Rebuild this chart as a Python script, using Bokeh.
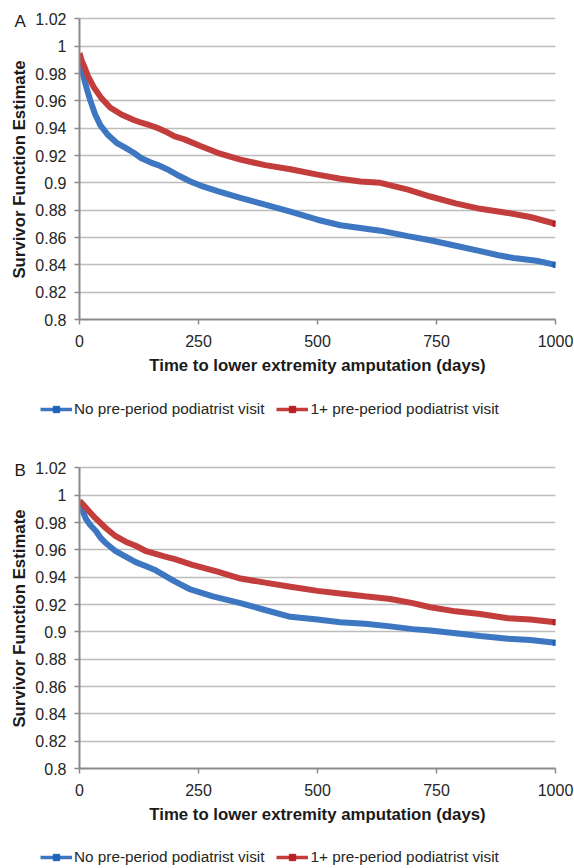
import math
from bokeh.plotting import figure
from bokeh.layouts import column, row
from bokeh.models import (Range1d, FixedTicker, NumeralTickFormatter, Legend,
                          LegendItem, Label)
from bokeh.embed import file_html
from bokeh.resources import INLINE

# ---- data ----
series_labels = ["No pre-period podiatrist visit", "1+ pre-period podiatrist visit"]
panel_tags = ["A", "B"]
x_ticks = [0, 250, 500, 750, 1000]
y_ticks = [0.8, 0.82, 0.84, 0.86, 0.88, 0.9, 0.92, 0.94, 0.96, 0.98, 1.0, 1.02]
x_title = "Time to lower extremity amputation (days)"
y_title = "Survivor Function Estimate"

# Panel A
a_no_days = [0, 4, 9, 16, 23, 33, 44, 60, 79, 95, 114, 130, 149, 165, 184, 210, 233, 254, 290, 338,
             390, 443, 500, 548, 590, 632, 690, 737, 790, 842, 880, 912, 960, 1000]
a_no_surv = [0.994, 0.985, 0.977, 0.968, 0.960, 0.950, 0.942, 0.935, 0.929, 0.926, 0.922, 0.918, 0.915,
             0.913, 0.910, 0.905, 0.901, 0.898, 0.894, 0.889, 0.884, 0.879, 0.873, 0.869, 0.867, 0.865,
             0.861, 0.858, 0.854, 0.850, 0.847, 0.845, 0.843, 0.840]
a_yes_days = [0, 4, 9, 18, 30, 46, 65, 88, 114, 130, 149, 165, 184, 200, 219, 233, 254, 290, 338, 390,
              443, 500, 548, 590, 632, 690, 737, 790, 842, 900, 947, 1000]
a_yes_surv = [0.995, 0.990, 0.986, 0.978, 0.970, 0.962, 0.955, 0.950, 0.946, 0.944, 0.942, 0.940, 0.937,
              0.934, 0.932, 0.930, 0.927, 0.922, 0.917, 0.913, 0.910, 0.906, 0.903, 0.901, 0.900, 0.895,
              0.890, 0.885, 0.881, 0.878, 0.875, 0.870]

# Panel B
b_no_days = [0, 6, 13, 23, 34, 44, 55, 76, 97, 118, 140, 160, 180, 200, 233, 280, 338, 390, 443, 500,
             548, 600, 653, 700, 737, 790, 842, 900, 947, 1000]
b_no_surv = [0.995, 0.989, 0.983, 0.978, 0.974, 0.969, 0.965, 0.959, 0.955, 0.951, 0.948, 0.945, 0.941,
             0.937, 0.931, 0.926, 0.921, 0.916, 0.911, 0.909, 0.907, 0.906, 0.904, 0.902, 0.901, 0.899,
             0.897, 0.895, 0.894, 0.892]
b_yes_days = [0, 8, 18, 34, 55, 76, 97, 118, 140, 160, 180, 202, 237, 290, 338, 390, 443, 500, 548, 600,
              653, 700, 737, 790, 842, 900, 947, 1000]
b_yes_surv = [0.996, 0.993, 0.989, 0.983, 0.976, 0.970, 0.966, 0.963, 0.959, 0.957, 0.955, 0.953, 0.949,
              0.944, 0.939, 0.936, 0.933, 0.930, 0.928, 0.926, 0.924, 0.921, 0.918, 0.915, 0.913, 0.910,
              0.909, 0.907]

BLUE = "#3D77C2"
RED = "#C23D3B"
BLUE_M = "#1F63B8"
RED_M = "#B81F1F"
FONT = "Liberation Sans"
TAG_W = 31
FRAME_H = 305          # plot frame height in px (a little headroom above the 1.02 line)
Y_MIN, Y_AXIS_MAX, Y_VIEW_MAX = 0.8, 1.02, 1.0232


def blank_fig(width, height, x_range, y_range):
    f = figure(width=width, height=height, output_backend="svg", toolbar_location=None,
               x_range=x_range, y_range=y_range, min_border=0,
               x_axis_location=None, y_axis_location=None)
    f.outline_line_color = None
    f.grid.visible = False
    f.title.text_font_size = "0px"
    f.title.standoff = 0
    f.title.visible = False
    return f


def tag_strip(tag, height):
    # narrow strip left of the plot; its frame is aligned with the plot frame,
    # so y is counted in px upward from the frame bottom
    f = blank_fig(TAG_W, height, Range1d(0, TAG_W), Range1d(0, FRAME_H))
    f.add_layout(Label(x=14, y=FRAME_H - 7, text=tag, text_font=FONT,
                       text_font_size="17px", text_baseline="middle", text_align="left",
                       text_color="#1A1A1A"))
    f.add_layout(Label(x=19, y=FRAME_H - 155, text=y_title, angle=math.pi / 2,
                       text_font=FONT, text_font_size="16.8px", text_font_style="bold",
                       text_baseline="middle", text_align="center", text_color="#1A1A1A"))
    return f


def main_plot(no_days, no_surv, yes_days, yes_surv, height, top_border):
    p = figure(width=574 - TAG_W, height=height, output_backend="svg", toolbar_location=None,
               x_range=Range1d(0, 1000), y_range=Range1d(Y_MIN, Y_VIEW_MAX),
               min_border_left=79 - TAG_W, min_border_right=19, min_border_top=top_border,
               min_border_bottom=height - top_border - FRAME_H)
    p.outline_line_color = None
    p.xgrid.visible = False
    p.ygrid.grid_line_color = "#BDBDBD"
    p.ygrid.grid_line_width = 1.5
    p.ygrid.ticker = FixedTicker(ticks=y_ticks)

    for ax in (p.xaxis[0], p.yaxis[0]):
        ax.axis_line_color = "#8A8A8A"
        ax.axis_line_width = 2
        ax.major_tick_line_color = "#8A8A8A"
        ax.major_tick_line_width = 1.5
        ax.major_tick_out = 5
        ax.major_tick_in = 0
        ax.minor_tick_line_color = None
        ax.major_label_text_font = FONT
        ax.major_label_text_font_size = "16px"
        ax.major_label_text_color = "#262626"
        ax.axis_label_text_font = FONT
        ax.axis_label_text_font_size = "16.8px"
        ax.axis_label_text_font_style = "bold"
        ax.axis_label_text_color = "#1A1A1A"

    p.xaxis.ticker = FixedTicker(ticks=x_ticks)
    p.xaxis.major_label_standoff = 10
    p.xaxis.axis_label = x_title
    p.xaxis.axis_label_standoff = 6
    p.yaxis.ticker = FixedTicker(ticks=y_ticks)
    p.yaxis.bounds = (Y_MIN, Y_AXIS_MAX)
    p.yaxis.formatter = NumeralTickFormatter(format="0.[00]")
    p.yaxis.major_label_standoff = 8

    p.line(no_days, no_surv, line_color=BLUE, line_width=6)
    p.line(yes_days, yes_surv, line_color=RED, line_width=6)
    p.scatter(x=[no_days[-1]], y=[no_surv[-1]], marker="square", size=5, color=BLUE_M)
    p.scatter(x=[yes_days[-1]], y=[yes_surv[-1]], marker="square", size=5, color=RED_M)
    return p


def legend_strip(height, legend_bottom):
    # legend row under a panel; its sample glyphs lie outside this strip's ranges
    f = blank_fig(574, height, Range1d(2000, 3000), Range1d(0, 1))
    l_no = f.line(a_no_days, a_no_surv, line_color=BLUE, line_width=3.5)
    m_no = f.scatter(x=[a_no_days[-1]], y=[a_no_surv[-1]], marker="square", size=5, color=BLUE_M)
    l_yes = f.line(a_yes_days, a_yes_surv, line_color=RED, line_width=3.5)
    m_yes = f.scatter(x=[a_yes_days[-1]], y=[a_yes_surv[-1]], marker="square", size=5, color=RED_M)
    legend = Legend(items=[LegendItem(label=series_labels[0], renderers=[l_no, m_no]),
                           LegendItem(label=series_labels[1], renderers=[l_yes, m_yes])],
                    orientation="horizontal", location=(40, legend_bottom),
                    padding=0, margin=0, spacing=12, label_standoff=2,
                    glyph_width=32, glyph_height=16, label_height=16,
                    label_text_font=FONT, label_text_font_size="15.3px",
                    label_text_color="#262626",
                    border_line_alpha=0, background_fill_alpha=0)
    f.add_layout(legend)
    return f


# Panel A: rows 0..390, legend 390..430
HA, TA = 390, 14
# Panel B: rows 430..838, legend 838..868
HB, TB = 408, 33

panel_a = row(tag_strip(panel_tags[0], HA),
              main_plot(a_no_days, a_no_surv, a_yes_days, a_yes_surv, HA, TA), spacing=0)
legend_a = legend_strip(40, 12)
panel_b = row(tag_strip(panel_tags[1], HB),
              main_plot(b_no_days, b_no_surv, b_yes_days, b_yes_surv, HB, TB), spacing=0)
legend_b = legend_strip(30, 2)

layout = column(panel_a, legend_a, panel_b, legend_b, spacing=0)
open("out.html", "w").write(file_html(layout, INLINE))
